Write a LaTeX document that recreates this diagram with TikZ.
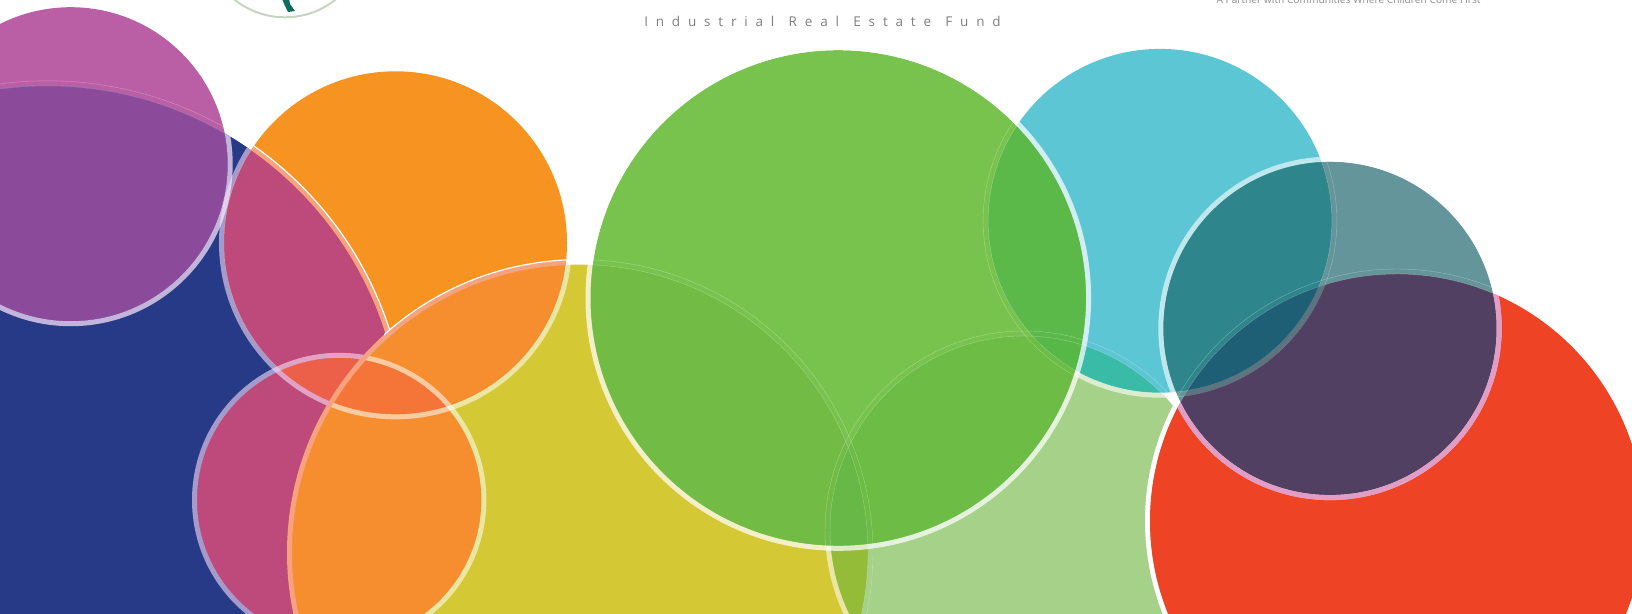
\documentclass[tikz,border=0pt]{standalone}
\usepackage{fontspec}
\setmainfont{Open Sans}
\definecolor{cMag}{HTML}{BA5FA5}
\definecolor{cNavy}{HTML}{273A88}
\definecolor{cPurp}{HTML}{8C4A9A}
\definecolor{cOrg}{HTML}{F79421}
\definecolor{cPink}{HTML}{BE4A7B}
\definecolor{cCoral}{HTML}{EC5F49}
\definecolor{cYel}{HTML}{D5C835}
\definecolor{cYO}{HTML}{F68D2E}
\definecolor{cYOP}{HTML}{F47537}
\definecolor{cSalm}{HTML}{F7A27F}
\definecolor{cLt}{HTML}{A5D188}
\definecolor{cLY}{HTML}{95BC38}
\definecolor{cCy}{HTML}{5CC6D4}
\definecolor{cCL}{HTML}{39BBA8}
\definecolor{cRed}{HTML}{EE4324}
\definecolor{cGr}{HTML}{78C34E}
\definecolor{cGY}{HTML}{72BB44}
\definecolor{cGL}{HTML}{6CBC45}
\definecolor{cGC}{HTML}{5BB949}
\definecolor{cGYL}{HTML}{67B846}
\definecolor{cGCL}{HTML}{57B848}
\definecolor{cDk}{HTML}{64959A}
\definecolor{cDC}{HTML}{2E868C}
\definecolor{cDR}{HTML}{514062}
\definecolor{cDCR}{HTML}{1E5F75}
\definecolor{cDrR}{HTML}{E29DC6}
\definecolor{cCrD}{HTML}{5C7480}
\definecolor{cLogo}{HTML}{C5D6C0}
\definecolor{cBird}{HTML}{0F6B5C}
\definecolor{cTintA}{HTML}{FADDF8}
\definecolor{cTintB}{HTML}{FFE4FA}
\newcommand{\circdef}[4]{%
 \expandafter\def\csname shp#1\endcsname{(#2,#3) circle [radius=#4]}%
 \expandafter\def\csname bnd#1\endcsname{(#2,#3) circle [radius=#4+2.5]}%
 \expandafter\def\csname out#1\endcsname{(#2,#3) circle [radius=#4+5]}%
}
\circdef{M}{70.7}{164.2}{157}
\circdef{N}{47.4}{440.3}{354.5}
\circdef{O}{395.5}{242.8}{171.5}
\circdef{P}{339.2}{500}{142.2}
\circdef{Y}{580}{552.6}{288}
\circdef{L}{1024}{530}{194}
\circdef{C}{1160}{220.8}{171.9}
\circdef{G}{838.3}{298}{247.8}
\circdef{R}{1397}{521}{247}
\circdef{D}{1330}{328.4}{166.7}
\newcommand{\rgnB}[3]{\begin{scope}\clip #2;\fill[#1] #3;\end{scope}}
\newcommand{\rgnC}[4]{\begin{scope}\clip #2;\clip #3;\fill[#1] #4;\end{scope}}
\newcommand{\hair}[2]{\begin{scope}\clip #1;
  \draw[hairl] \csname shp#2\endcsname;
  \draw[hairl] \csname out#2\endcsname;\end{scope}}
\tikzset{
  hairl/.style={draw=white,draw opacity=.3,line width=.45pt},
  band/.style={line width=5pt,draw=white,draw opacity=#1},
  band/.default=.55,
  tintband/.style={line width=5pt,draw=cTintA,draw opacity=.6}
}
\begin{document}
\begin{tikzpicture}[x=1pt,y=-1pt]
\useasboundingbox (0,0) rectangle (1632,613);
\clip (0,0) rectangle (1632,613);
\fill[white] (0,0) rectangle (1632,613);
% logo fragment
\draw[draw=cLogo,line width=2pt] (285,-63.7) circle [radius=81];
\fill[fill=cBird] (282,-1) -- (289,-1) -- (290,4) -- (295,11) -- (288,12) -- (285,6) -- cycle;
% captions
\node[anchor=base,inner sep=0pt,text=black!50,font=\fontsize{13.5}{15}\selectfont\addfontfeature{LetterSpace=58}] (fund) at (822.5,26) {Industrial\kern3pt{} Real\kern3pt{} Estate\kern3pt{} Fund};
\node[anchor=base,inner sep=0pt,text=black!45,font=\fontsize{10.2}{12}\selectfont] (partner) at (1348.5,3) {A Partner with Communities Where Children Come First};
% left cluster
\fill[cMag] \shpM;
\fill[cNavy] \shpN;
\fill[cOrg] \shpO;
\rgnB{cPink}{\shpO}{\shpN}
\begin{scope}\clip \shpO;
  \draw[line width=5pt,cSalm] \bndN;
  \draw[white,line width=1.2pt] \outN;
\end{scope}
\rgnB{cPurp}{\shpM}{\shpN}
\hair{\shpM}{N}
\fill[cPink] \shpP;
\rgnB{cCoral}{\shpP}{\shpO}
\begin{scope}\clip \shpN;\draw[tintband] \bndO;\draw[tintband] \bndP;\end{scope}
\fill[cYel] \shpY;
\rgnB{cYO}{\shpY}{\shpO}
\rgnB{cYO}{\shpY}{\shpP}
\rgnC{cYOP}{\shpY}{\shpO}{\shpP}
\begin{scope}\clip \shpN \shpO;
  \draw[line width=5pt,cSalm] \bndY;
\end{scope}
\begin{scope}\clip (384,240) rectangle (570,340);\clip \shpO;
  \draw[white,line width=1.2pt] \outY;
\end{scope}
% middle cluster
\fill[cLt] \shpL;
\rgnB{cLY}{\shpL}{\shpY}
\begin{scope}\clip \shpY;\draw[band] \bndL;\end{scope}
\hair{\shpL}{Y}
\fill[cCy] \shpC;
\rgnB{cCL}{\shpC}{\shpL}
\hair{\shpC}{L}
\begin{scope}\clip \shpL;\draw[band=.6] \bndC;\end{scope}
\draw[line width=5pt,white] \bndR;
\fill[cRed] \shpR;
\fill[cGr] \shpG;
\rgnB{cGY}{\shpG}{\shpY}
\rgnB{cGL}{\shpG}{\shpL}
\rgnB{cGC}{\shpG}{\shpC}
\rgnC{cGYL}{\shpG}{\shpY}{\shpL}
\rgnC{cGCL}{\shpG}{\shpC}{\shpL}
\hair{\shpG}{Y}
\hair{\shpG}{L}
\hair{\shpG}{C}
\draw[band=.72] \bndG;
\begin{scope}\clip \shpY;\draw[band] \bndO;\draw[band] \bndP;\end{scope}
\begin{scope}\clip \shpN;\draw[line width=5pt,draw=cTintB,draw opacity=.72] \bndM;\end{scope}
% right cluster
\fill[cDk] \shpD;
\rgnB{cDC}{\shpD}{\shpC}
\rgnB{cDR}{\shpD}{\shpR}
\rgnC{cDCR}{\shpD}{\shpC}{\shpR}
\hair{\shpD}{C}
\begin{scope}\clip \shpD;\clip \shpR;\draw[line width=5pt,cCrD] \bndC;\end{scope}
\hair{\shpD}{R}
\draw[band=.6] \bndD;
\begin{scope}\clip \shpR;\draw[line width=5pt,cDrR] \bndD;\end{scope}
\end{tikzpicture}
\end{document}
